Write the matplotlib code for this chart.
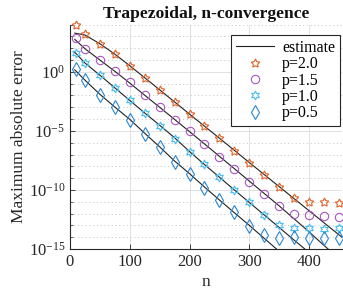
import numpy as np
import matplotlib
matplotlib.use("Agg")
import matplotlib.pyplot as plt
from matplotlib.ticker import FixedLocator, NullFormatter

plt.rcParams['font.family'] = ['Liberation Serif', 'DejaVu Serif']
plt.rcParams['mathtext.fontset'] = 'custom'
plt.rcParams['mathtext.rm'] = 'Liberation Serif'
plt.rcParams['mathtext.it'] = 'Liberation Serif'

# ---- data (log10 of max absolute error) ----
n_pts = [10, 25, 50, 75, 100, 125, 150, 175, 200, 225, 250, 275, 300,
         325, 350, 375, 400, 425, 450]
log_err_p20 = [3.96, 3.17, 2.36, 1.52, 0.50, -0.53, -1.52, -2.55, -3.60, -4.58,
               -5.59, -6.71, -7.75, -8.73, -9.75, -10.70, -10.98, -11.06, -11.10]
log_err_p15 = [2.84, 1.96, 1.01, 0.11, -0.90, -2.00, -2.97, -4.04, -5.05, -6.12,
               -7.19, -8.26, -9.29, -10.36, -11.37, -12.05, -12.10, -12.20, -12.27]
log_err_p10 = [1.63, 0.73, -0.25, -1.38, -2.42, -3.48, -4.55, -5.67, -6.80, -7.83,
               -8.90, -10.03, -11.06, -12.10, -13.00, -13.20, -13.20, -13.29, -13.25]
log_err_p05 = [0.23, -0.67, -1.94, -2.97, -4.05, -5.25, -6.40, -7.61, -8.62, -9.80,
               -10.84, -11.90, -13.03, -13.82, -14.07, -14.00, -14.10, -14.05, -14.05]

n_est = [8, 25, 50, 75, 100, 125, 150, 175, 200, 225, 250, 275, 300,
         325, 350, 375, 400, 425, 450, 460]
log_est_p20 = [3.28, 3.12, 2.38, 1.50, 0.52, -0.50, -1.52, -2.55, -3.58, -4.60,
               -5.62, -6.65, -7.68, -8.70, -9.72, -10.74, -11.76, -12.78, -13.80, -14.20]
log_est_p15 = [2.75, 1.96, 1.00, 0.05, -0.95, -1.98, -3.00, -4.03, -5.06, -6.10,
               -7.15, -8.20, -9.25, -10.30, -11.35, -12.45, -13.55, -14.70, -15.80, -16.2]
log_est_p10 = [1.66, 0.75, -0.28, -1.35, -2.42, -3.48, -4.52, -5.58, -6.75, -7.85,
               -8.92, -10.00, -11.06, -12.12, -13.18, -14.25, -15.30, -16.35, -17.40, -17.8]
log_est_p05 = [0.17, -0.70, -1.90, -2.98, -4.02, -5.20, -6.35, -7.55, -8.62, -9.75,
               -10.85, -11.93, -13.00, -14.10, -15.20, -16.30, -17.40, -18.50, -19.60, -20.0]

labels = ['p=2.0', 'p=1.5', 'p=1.0', 'p=0.5']
colors = ['#E0622A', '#A855C0', '#4DBEEE', '#2A86D0']
markers = [(5, 1, 0), 'o', (6, 1, 0), 'd']
msizes = [6.5, 6, 6.5, 6.8]

fig = plt.figure(figsize=(3.43, 3.0), dpi=100)
ax = fig.add_axes([0.204, 0.17, 0.793, 0.748])

est = [log_est_p20, log_est_p15, log_est_p10, log_est_p05]
errs = [log_err_p20, log_err_p15, log_err_p10, log_err_p05]

for i, e in enumerate(est):
    ax.plot(n_est, 10.0 ** np.array(e), color='#222222', lw=0.8,
            label='estimate' if i == 0 else None, zorder=3)
for i, e in enumerate(errs):
    ax.plot(n_pts, 10.0 ** np.array(e), linestyle='none', marker=markers[i],
            markersize=msizes[i], markerfacecolor='none', markeredgecolor=colors[i],
            markeredgewidth=0.8, label=labels[i], clip_on=False, zorder=4)

ax.set_yscale('log')
ax.set_xlim(0, 455)
ax.set_ylim(1e-15, 1e4)

ax.set_xticks([0, 100, 200, 300, 400])
ax.yaxis.set_major_locator(FixedLocator([1e-15, 1e-10, 1e-5, 1e0]))
ax.set_yticklabels([r'$10^{-15}$', r'$10^{-10}$', r'$10^{-5}$', r'$10^{0}$'])
ax.yaxis.set_minor_locator(FixedLocator([10.0 ** k for k in range(-15, 5)]))
ax.yaxis.set_minor_formatter(NullFormatter())

ax.grid(True, which='major', axis='both', color='#dcdcdc', lw=0.6, zorder=0)
ax.grid(True, which='minor', axis='y', color='#c8c8c8', lw=0.6,
        linestyle=(0, (1.5, 3)), zorder=0)
ax.set_axisbelow(True)

for s in ['top', 'right']:
    ax.spines[s].set_visible(False)
for s in ['left', 'bottom']:
    ax.spines[s].set_color('#262626')
    ax.spines[s].set_linewidth(0.8)

ax.tick_params(axis='both', which='both', direction='in', colors='#262626',
               labelsize=12, labelcolor='#262626')
ax.tick_params(axis='both', which='major', length=3.5, width=0.6)
ax.tick_params(axis='y', which='minor', length=2, width=0.5)

ax.set_xlabel('n', fontsize=12.5, color='#262626', labelpad=3)
ax.set_ylabel('Maximum absolute error', fontsize=12.5, color='#262626', labelpad=1)
ax.set_title('Trapezoidal, n-convergence', fontsize=12.6, fontweight='bold',
             color='#111111', pad=5)

leg = ax.legend(loc='upper right', bbox_to_anchor=(0.993, 0.953), fontsize=11.5,
                frameon=True, fancybox=False, edgecolor='#262626', framealpha=1,
                handlelength=2.4, handletextpad=0.5, labelspacing=0.02,
                borderpad=0.3, borderaxespad=0.0)
leg.get_frame().set_linewidth(0.8)

fig.savefig('out.png', dpi=100)
